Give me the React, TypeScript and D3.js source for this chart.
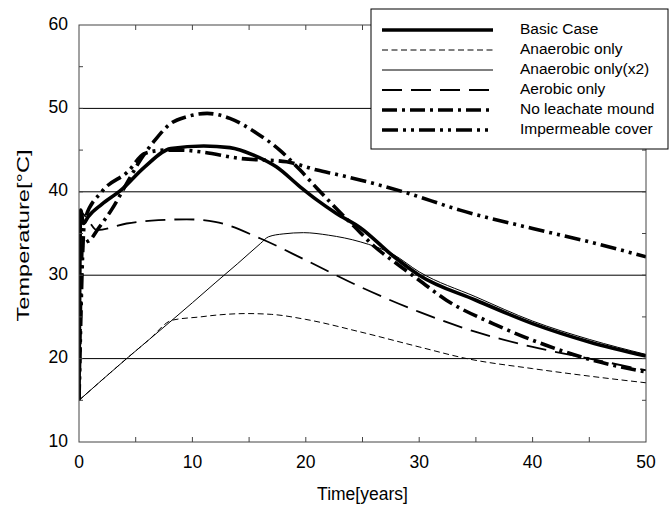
import React from "react";
import * as d3 from "d3";

// ---- Data ----
const basicT = [0, 0.15, 0.4, 0.8, 2, 3.7, 5.8, 8.1, 11, 13.3, 15.4, 17.4, 19.5, 21, 22.7, 24.8, 27.7, 30, 35, 40, 45, 50];
const basicV = [15, 37.8, 36.2, 37, 38.5, 40.2, 43, 45.2, 45.5, 45.3, 44.4, 43, 40.6, 39, 37.4, 35.7, 32.3, 30, 27, 24.2, 22, 20.3];

const anaT = [0, 2, 4.2, 6.2, 8.2, 10.7, 12, 14.8, 17, 20, 24.8, 30, 34.2, 40, 45, 50];
const anaV = [15, 17.4, 20, 22.3, 24.6, 25.0, 25.2, 25.4, 25.3, 24.7, 23.2, 21.4, 20, 18.8, 17.9, 17.1];

const ana2T = [0, 2, 4.2, 6.2, 8.2, 10, 12, 14, 16, 16.7, 18, 19.8, 22, 24.8, 27.7, 30, 35, 40, 45, 50];
const ana2V = [15, 17.4, 20, 22.3, 24.6, 26.7, 29.07, 31.4, 33.8, 34.6, 34.95, 35.1, 34.8, 34.0, 32.5, 30.4, 27.4, 24.5, 22.3, 20.5];

const aerT = [0, 0.2, 0.6, 1.6, 4.2, 7, 9.5, 12, 16, 20, 24.8, 30, 35, 40, 45, 50];
const aerV = [15, 37.5, 37, 35.4, 36.2, 36.6, 36.7, 36.4, 34.4, 31.8, 28.6, 25.6, 23.2, 21.4, 20, 18.6];

const noLeachT = [0, 0.3, 1.1, 1.6, 2.85, 4, 5.5, 6.7, 8.1, 9.5, 11.3, 13.3, 15.7, 17.7, 19.5, 21, 22.4, 24.3, 26, 28, 30, 32.4, 36.5, 40, 45.3, 50];
const noLeachV = [15, 33.5, 34.4, 35.4, 37.8, 40.5, 44, 46.2, 48.2, 49.0, 49.4, 48.8, 47.0, 45.0, 42.6, 40.4, 38.4, 35.8, 33.5, 31.4, 29.4, 27, 24.2, 22.2, 19.8, 18.4];

const imperT = [0, 0.5, 2, 4.3, 5.8, 7.6, 9, 10.7, 14.2, 18.3, 21, 23, 28.6, 33.6, 40, 45, 50];
const imperV = [15, 36.6, 40, 42.4, 44.6, 45.0, 45.0, 44.8, 44.0, 43.6, 42.6, 42.0, 40, 37.8, 35.6, 34, 32.2];

const seriesNames = ["Basic Case", "Anaerobic only", "Anaerobic only(x2)", "Aerobic only", "No leachate mound", "Impermeable cover"];
const xTicks = [0, 10, 20, 30, 40, 50];
const yTicks = [10, 20, 30, 40, 50, 60];
const gridValues = [20, 30, 40, 50];

const styles = [
  { w: 3.6, dash: "" },
  { w: 1, dash: "6,3.5" },
  { w: 1, dash: "" },
  { w: 1.8, dash: "20,9" },
  { w: 3.6, dash: "15,5,3,5" },
  { w: 3.6, dash: "16,5,3,5,3,5" },
];

const W = 669, H = 508;
const L = 79, R = 646, T = 25, B = 442;
const FONT = "'Liberation Sans', Arial, sans-serif";

export default function App() {
  const x = d3.scaleLinear().domain([0, 50]).range([L, R]);
  const y = d3.scaleLinear().domain([10, 60]).range([B, T]);
  const line = d3.line<[number, number]>().x(d => x(d[0])).y(d => y(d[1])).curve(d3.curveMonotoneX);

  const data: [number, number][][] = [
    basicT.map((t, i) => [t, basicV[i]]),
    anaT.map((t, i) => [t, anaV[i]]),
    ana2T.map((t, i) => [t, ana2V[i]]),
    aerT.map((t, i) => [t, aerV[i]]),
    noLeachT.map((t, i) => [t, noLeachV[i]]),
    imperT.map((t, i) => [t, imperV[i]]),
  ];

  const minorX = d3.range(5, 50, 5);
  const minorY = d3.range(15, 60, 5);

  const legX = 371, legY = 9, legW = 297, legH = 140;

  return (
    <svg width={W} height={H} style={{ position: "absolute", left: 0, top: 0, background: "#fff" }} fontFamily={FONT}>
      <rect x={0} y={0} width={W} height={H} fill="#fff" />
      {gridValues.map(v => (
        <line key={"g" + v} x1={L} x2={R} y1={y(v)} y2={y(v)} stroke="#000" strokeWidth={1} />
      ))}
      <defs>
        <clipPath id="plotclip">
          <rect x={L} y={T} width={R - L} height={B - T} />
        </clipPath>
      </defs>
      <g clipPath="url(#plotclip)">
        {data.map((d, i) => (
          <path key={"s" + i} d={line(d) || ""} fill="none" stroke="#000" strokeWidth={styles[i].w}
            strokeDasharray={styles[i].dash || undefined} strokeLinejoin="round" />
        ))}
      </g>
      {/* frame */}
      <rect x={L} y={T} width={R - L} height={B - T} fill="none" stroke="#444" strokeWidth={1} />
      {minorX.map(v => (
        <g key={"tx" + v}>
          <line x1={x(v)} x2={x(v)} y1={B} y2={B - 5} stroke="#444" />
          <line x1={x(v)} x2={x(v)} y1={T} y2={T + 5} stroke="#444" />
        </g>
      ))}
      {minorY.map(v => (
        <g key={"ty" + v}>
          <line x1={L} x2={L + 4} y1={y(v)} y2={y(v)} stroke="#444" />
          <line x1={R} x2={R - 4} y1={y(v)} y2={y(v)} stroke="#444" />
        </g>
      ))}
      {xTicks.map(v => (
        <text key={"xl" + v} x={x(v)} y={B + 21} textAnchor="middle" dominantBaseline="middle" fontSize={17.5} fill="#000">{v}</text>
      ))}
      {yTicks.map(v => (
        <text key={"yl" + v} x={L - 11} y={y(v)} textAnchor="end" dominantBaseline="middle" fontSize={17.5} fill="#000">{v}</text>
      ))}
      <text x={(L + R) / 2} y={495} textAnchor="middle" dominantBaseline="middle" fontSize={17.5} fill="#000">Time[years]</text>
      <text transform={`translate(25,${(T + B) / 2 + 2}) rotate(-90)`} textAnchor="middle" dominantBaseline="middle"
        fontSize={17} fill="#000" textLength={172} lengthAdjust="spacingAndGlyphs">Temperature[°C]</text>

      {/* legend */}
      <rect x={legX} y={legY} width={legW} height={legH} fill="#fff" stroke="#000" strokeWidth={1} />
      {seriesNames.map((name, i) => {
        const yy = 30 + i * 20;
        return (
          <g key={"lg" + i}>
            <line x1={382} x2={493} y1={yy} y2={yy} stroke="#000" strokeWidth={styles[i].w}
              strokeDasharray={styles[i].dash || undefined} />
            <text x={520} y={yy} dominantBaseline="middle" fontSize={15.5} fill="#000">{name}</text>
          </g>
        );
      })}
    </svg>
  );
}
